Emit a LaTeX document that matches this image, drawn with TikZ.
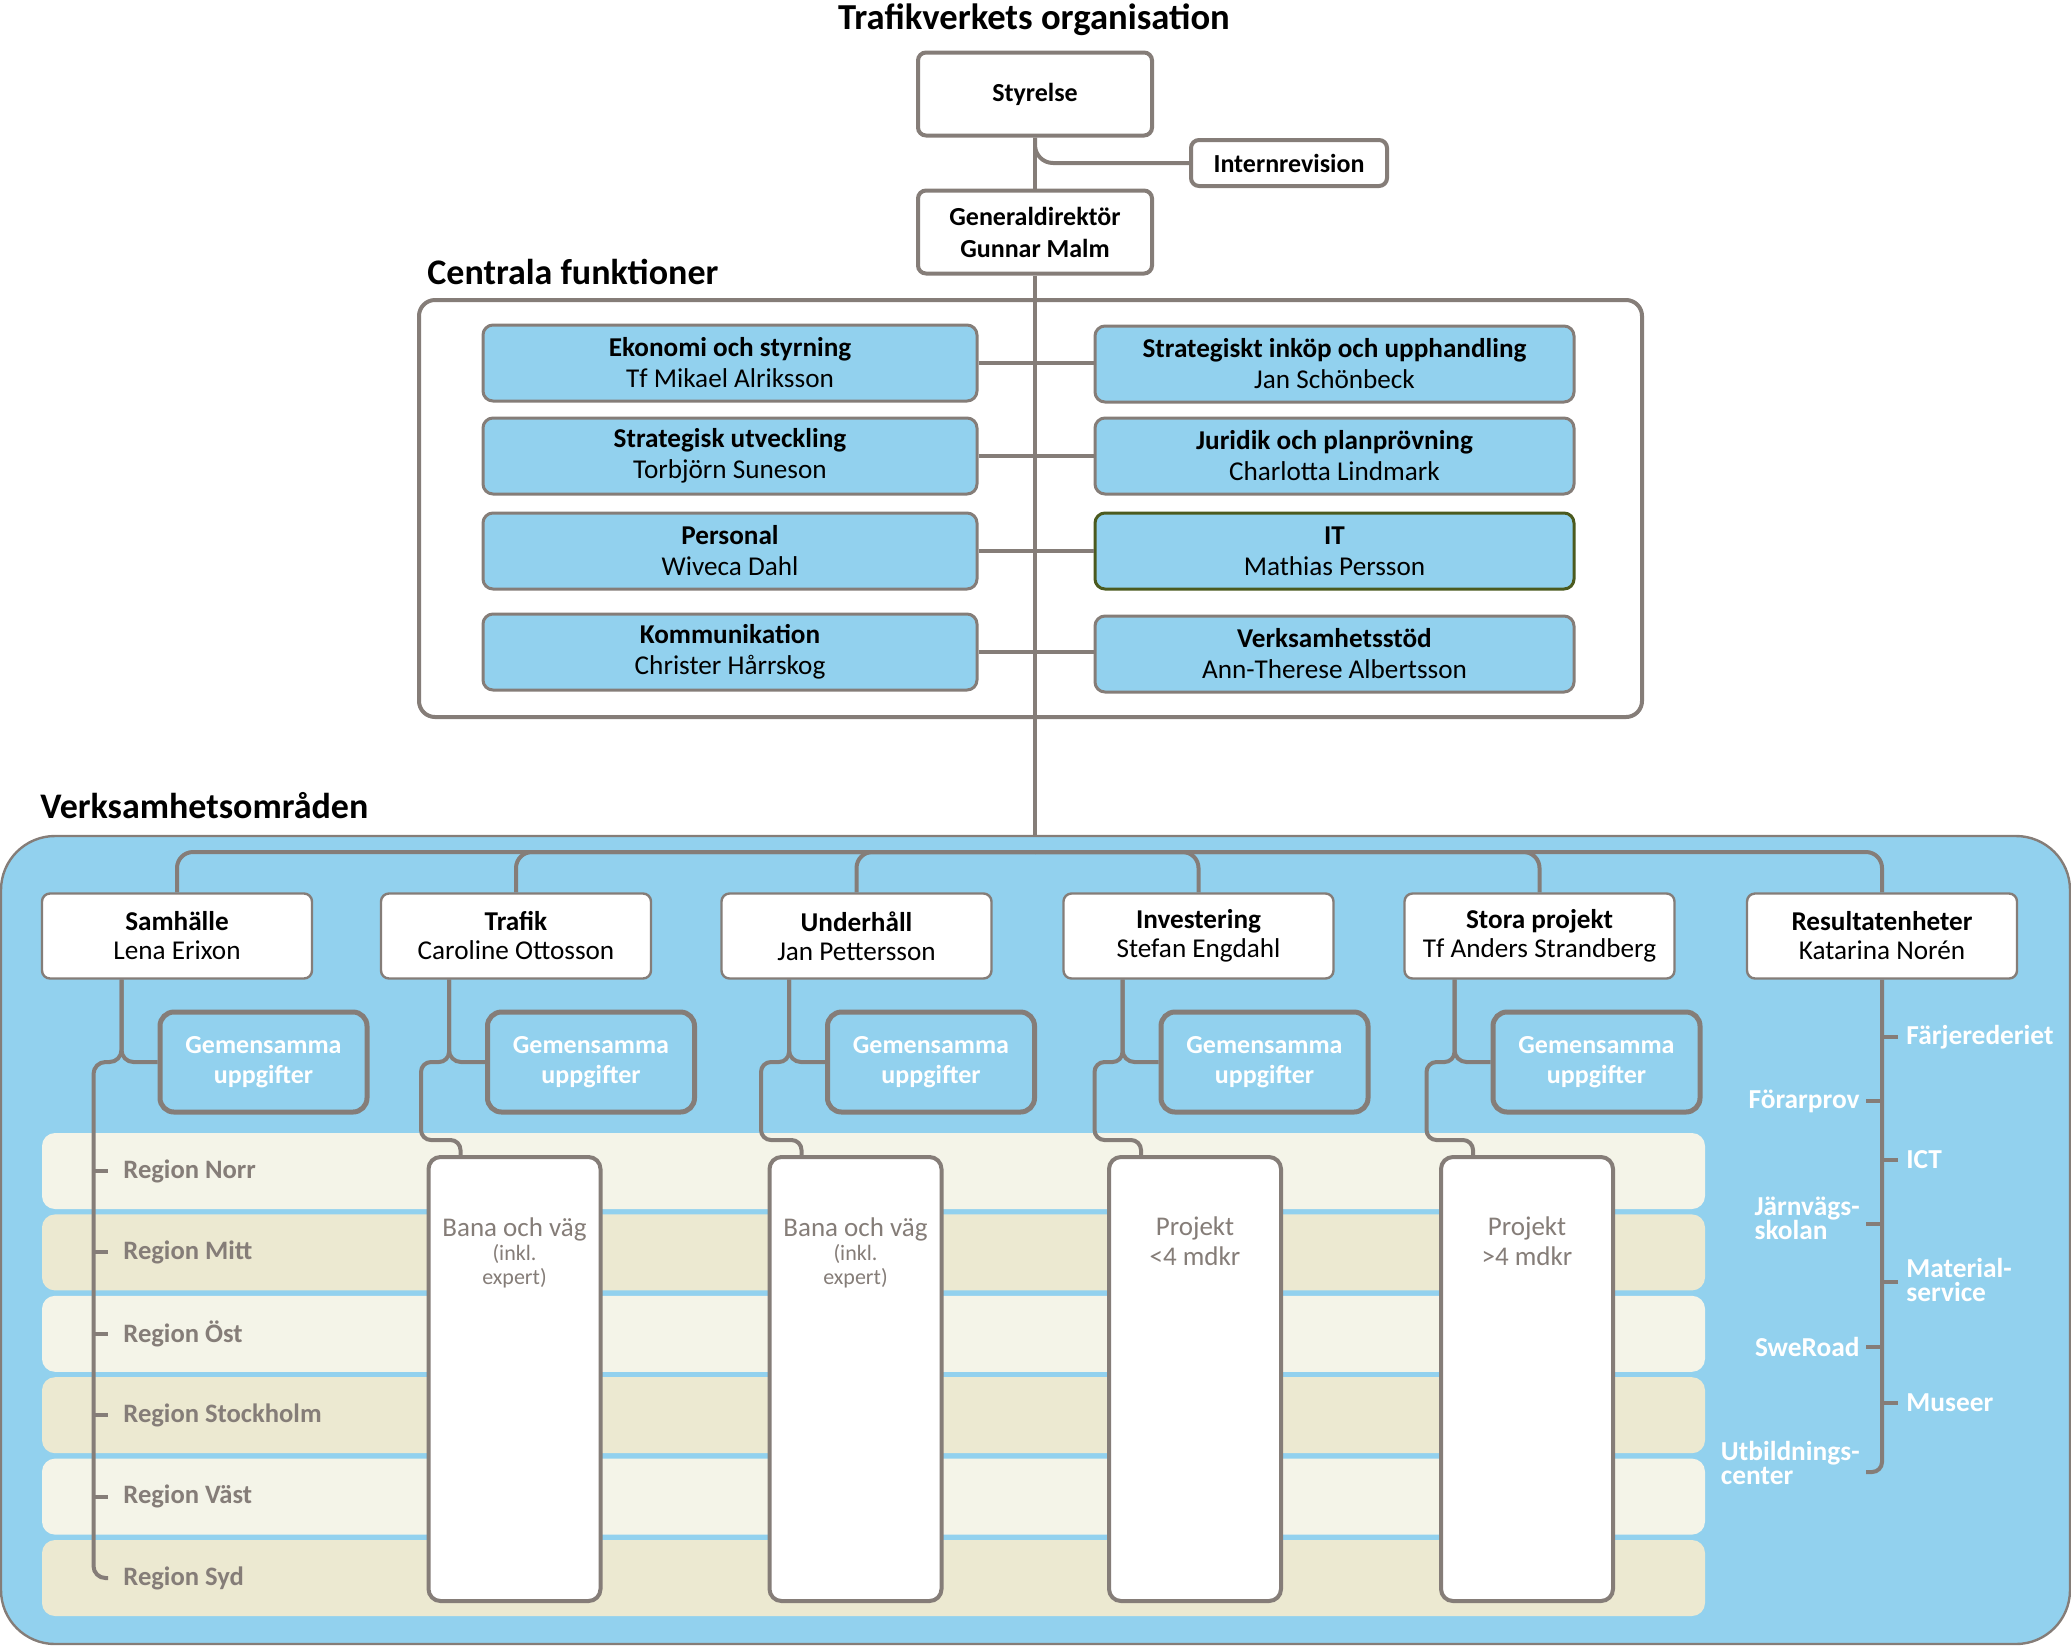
\documentclass[tikz,border=0pt]{standalone}
\usepackage{fontspec}
\setmainfont{Carlito}
\usetikzlibrary{positioning,calc}
\definecolor{tvblue}{HTML}{92D1EE}
\definecolor{tvgray}{HTML}{857D78}
\definecolor{tvcream}{HTML}{F4F4E8}
\definecolor{tvsand}{HTML}{ECE9D1}
\definecolor{tvolive}{HTML}{4B5A1E}
\tikzset{
  conn/.style={draw=tvgray, line width=2pt, rounded corners=6pt},
}

\begin{document}
\begin{tikzpicture}[x=0.5pt,y=-0.5pt,
  head/.style={inner sep=0pt, font=\fontsize{18}{20}\selectfont\bfseries},
  ledbox/.style={draw=tvgray, line width=2pt, fill=white, rounded corners=4pt, align=center,
    minimum width=117pt, minimum height=41.5pt, font=\fontsize{13}{16}\selectfont\bfseries},
  funk/.style={draw=tvgray, line width=1.5pt, fill=tvblue, rounded corners=5pt, align=center,
    minimum height=38pt, font=\fontsize{13.6}{15.5}\selectfont},
  omrbox/.style={draw=tvgray, line width=1.2pt, fill=white, rounded corners=4pt, align=center,
    minimum width=135pt, minimum height=42.5pt, font=\fontsize{13.6}{14.5}\selectfont},
  gem/.style={draw=tvgray, line width=2.5pt, fill=tvblue, rounded corners=7pt, align=center,
    text=white, minimum width=103.5pt, minimum height=50pt, font=\fontsize{13}{15}\selectfont\bfseries},
  tall/.style={draw=tvgray, line width=2pt, fill=white, rounded corners=6pt,
    minimum width=86pt, minimum height=222pt},
  talltext/.style={text=tvgray, align=center, inner sep=0pt, font=\fontsize{13.5}{15}\selectfont},
  region/.style={text=tvgray, anchor=west, inner sep=0pt, font=\fontsize{13.3}{15}\selectfont\bfseries},
  resunit/.style={text=white, align=left, inner sep=0pt, font=\fontsize{13.7}{12}\selectfont\bfseries},
]
\useasboundingbox (0,0) rectangle (2071,1645);

\node[head, font=\fontsize{18.3}{20}\selectfont\bfseries] (title) at (1034,20) {Trafikverkets organisation};
\node[ledbox] (sty) at (1035,94) {Styrelse};
\node[ledbox, minimum width=98pt, minimum height=23pt] (intrev) at (1289,163) {Internrevision};
\node[ledbox] (gd) at (1035,232) {Generaldirektör\\Gunnar Malm};
\draw[conn] (sty) -- (gd);
\draw[conn, rounded corners=9pt] (sty.south) |- (intrev.west);

\node[head, anchor=west] (centhead) at (427,272) {Centrala funktioner};
\draw[draw=tvgray, line width=2pt, fill=white, rounded corners=8pt] (419,300) rectangle (1642,717);
\coordinate (junc) at (1035,852);
\draw[conn] (gd.south) -- (junc);

\node[funk, minimum width=247pt] (eko) at (730,363) {\textbf{Ekonomi och styrning}\\Tf Mikael Alriksson};
\node[funk, minimum width=247pt] (sutv) at (730,456) {\textbf{Strategisk utveckling}\\Torbjörn Suneson};
\node[funk, minimum width=247pt] (pers) at (730,551) {\textbf{Personal}\\Wiveca Dahl};
\node[funk, minimum width=247pt] (komm) at (730,652) {\textbf{Kommunikation}\\Christer Hårrskog};
\node[funk, minimum width=239.5pt] (inkop) at (1334.5,364) {\textbf{Strategiskt inköp och upphandling}\\Jan Schönbeck};
\node[funk, minimum width=239.5pt] (jur) at (1334.5,456) {\textbf{Juridik och planprövning}\\Charlotta Lindmark};
\node[funk, minimum width=239.5pt, draw=tvolive] (it) at (1334.5,551) {\textbf{IT}\\Mathias Persson};
\node[funk, minimum width=239.5pt] (vstod) at (1334.5,654) {\textbf{Verksamhetsstöd}\\Ann-Therese Albertsson};
\foreach \l/\r in {eko/inkop, sutv/jur, pers/it, komm/vstod}
  \draw[conn] (\l.east) -- (\l.east -| \r.west);

\node[head, anchor=west] (verkhead) at (40,806) {Verksamhetsområden};
\draw[draw=tvgray, line width=1.2pt, fill=tvblue, rounded corners=27pt] (1,836) rectangle (2070,1644);
\foreach \k/\c in {0/tvcream,1/tvsand,2/tvcream,3/tvsand,4/tvcream,5/tvsand}
  \fill[\c, rounded corners=6.5pt] (42,{1133+81.4*\k}) rectangle (1705,{1209+81.4*\k});
\foreach \n [count=\k from 0] in {Norr,Mitt,Öst,Stockholm,Väst,Syd}
  \node[region] (reg\k) at (123,{1171+81.4*\k}) {Region \n};

\node[omrbox] (sam) at (177,936) {\textbf{Samhälle}\\Lena Erixon};
\node[omrbox] (traf) at (516,936) {\textbf{Trafik}\\Caroline Ottosson};
\node[omrbox] (und) at (856.5,936) {\textbf{Underhåll}\\Jan Pettersson};
\node[omrbox] (inv) at (1198.5,936) {\textbf{Investering}\\Stefan Engdahl};
\node[omrbox] (stora) at (1539.5,936) {\textbf{Stora projekt}\\Tf Anders Strandberg};
\node[omrbox] (res) at (1882,936) {\textbf{Resultatenheter}\\Katarina Norén};
\foreach \b in {sam,traf,und,inv,stora,res}
  \draw[conn, rounded corners=8pt] (junc) -| (\b.north);

\foreach \g/\x in {gem1/263.5, gem2/591, gem3/931, gem4/1264.5, gem5/1596.5}
  \node[gem] (\g) at (\x,1062) {Gemensamma\\uppgifter};

\node[tall] (bana1) at (514.5,1379) {};
\node[tall] (bana2) at (855.5,1379) {};
\node[tall] (proj1) at (1195,1379) {};
\node[tall] (proj2) at (1527,1379) {};
\node[talltext, below=31pt of bana1.north, font=\fontsize{13.5}{12}\selectfont] (bana1t)
  {Bana och väg\\{\fontsize{11}{12}\selectfont(inkl.}\\{\fontsize{11}{12}\selectfont expert)}};
\node[talltext, below=31pt of bana2.north, font=\fontsize{13.5}{12}\selectfont] (bana2t)
  {Bana och väg\\{\fontsize{11}{12}\selectfont(inkl.}\\{\fontsize{11}{12}\selectfont expert)}};
\node[talltext, below=30.5pt of proj1.north] (proj1t) {Projekt\\<4 mdkr};
\node[talltext, below=30.5pt of proj2.north] (proj2t) {Projekt\\>4 mdkr};

\coordinate (up) at ($(gem1.west)+(-36,0)$);
\coordinate (sline) at ($(up)+(-28,0)$);
\draw[conn] (up |- sam.south) -- (up) -- (gem1.west);
\draw[conn, shorten >=7.5pt] (up |- sam.south) -- (up) -- (sline) |- (reg5.west);
\foreach \k in {0,...,4}
  \draw[conn, shorten >=7.5pt] (reg\k.west -| sline) -- (reg\k.west);

\foreach \t/\g/\b in {traf/gem2/bana1, und/gem3/bana2, inv/gem4/proj1, stora/gem5/proj2} {
  \coordinate (up) at ($(\g.west)+(-36,0)$);
  \coordinate (entry) at ($(\b.north west)+(34,0)$);
  \draw[conn] (up |- \t.south) -- (up) -- (\g.west);
  \draw[conn, rounded corners=5pt] (up |- \t.south) -- (up) -- ++(-28,0) |- ($(entry)+(0,-15)$) -- (entry);
}

\coordinate (farjt) at (res.south |- 0,1037);
\coordinate (forart) at (res.south |- 0,1101);
\coordinate (ictt) at (res.south |- 0,1160);
\coordinate (jarnt) at (res.south |- 0,1224);
\coordinate (matt) at (res.south |- 0,1282);
\coordinate (swet) at (res.south |- 0,1347);
\coordinate (must) at (res.south |- 0,1403);
\coordinate (utbt) at (res.south |- 0,1472);
\node[resunit, right=12pt of farjt] (farj) {Färjerederiet};
\node[resunit, right=12pt of ictt] (ict) {ICT};
\node[resunit, right=12pt of matt, yshift=1pt] (mat) {Material-\\service};
\node[resunit, right=12pt of must] (mus) {Museer};
\node[resunit, left=11pt of forart] (forar) {Förarprov};
\node[resunit, left=11pt of jarnt, yshift=3pt] (jarn) {Järnvägs-\\skolan};
\node[resunit, left=11pt of swet] (swe) {SweRoad};
\node[resunit, left=11pt of utbt, yshift=4.5pt] (utb) {Utbildnings-\\center};
\draw[conn, rounded corners=5pt, shorten >=3pt] (res.south) |- (utbt -| utb.east);
\foreach \u in {farj,ict,mat,mus}
  \draw[conn, shorten >=4pt] (\u t) -- (\u t -| \u.west);
\foreach \u in {forar,jarn,swe}
  \draw[conn, shorten >=3pt] (\u t) -- (\u t -| \u.east);

\end{tikzpicture}
\end{document}
